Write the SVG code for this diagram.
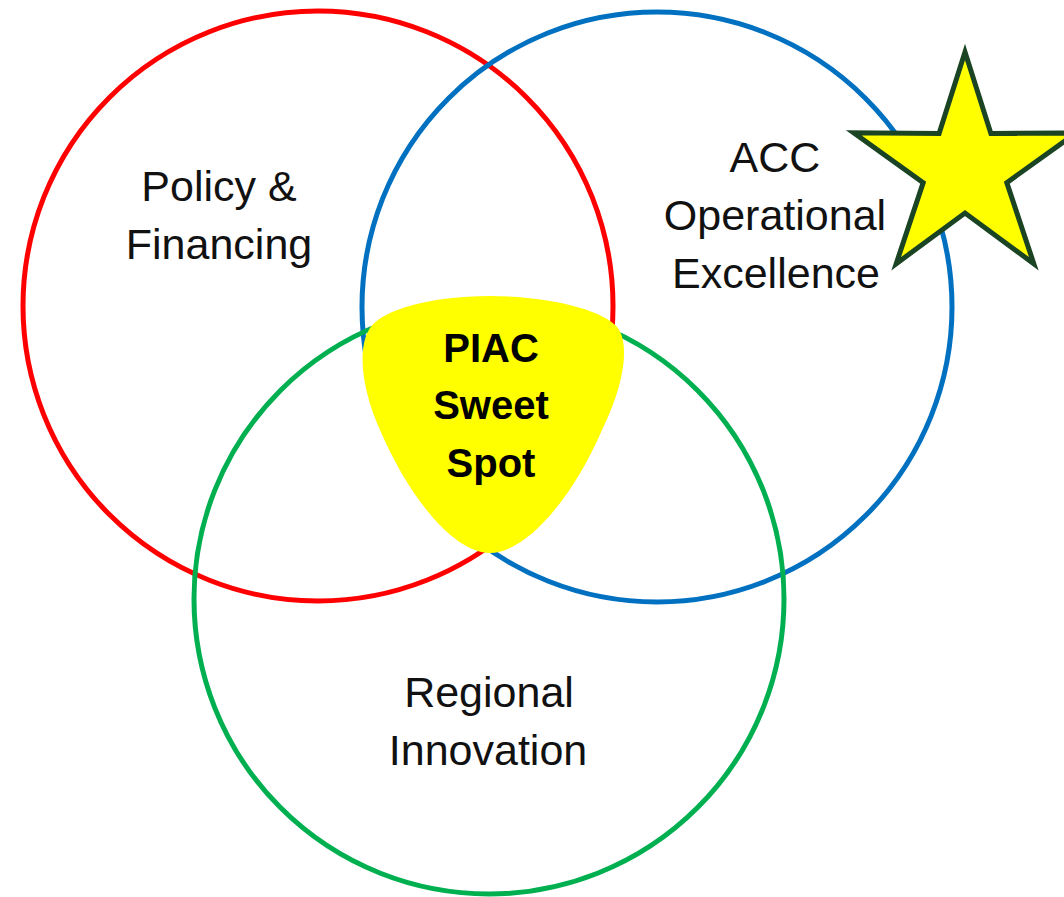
<svg xmlns="http://www.w3.org/2000/svg" width="1064" height="897" viewBox="0 0 1064 897">
  <style>
    .ring { fill: none; stroke-width: 5; }
    .lbl { font-family: "Liberation Sans", Arial, sans-serif; font-size: 43px; fill: #111; text-anchor: middle; }
    .core { font-family: "Liberation Sans", Arial, sans-serif; font-size: 40px; font-weight: bold; fill: #000; text-anchor: middle; }
  </style>
  <rect width="1064" height="897" fill="#fff"/>
  <g id="policy">
    <circle class="ring" cx="318" cy="306" r="295" stroke="#FF0000"/>
    <text class="lbl" x="219" y="201">Policy &amp;</text>
    <text class="lbl" x="219" y="259">Financing</text>
  </g>
  <g id="acc">
    <circle class="ring" cx="657" cy="307" r="295" stroke="#0070C0"/>
    <text class="lbl" x="775" y="172">ACC</text>
    <text class="lbl" x="775" y="230">Operational</text>
    <text class="lbl" x="776" y="288">Excellence</text>
  </g>
  <g id="regional">
    <circle class="ring" cx="489" cy="599" r="295" stroke="#00B050"/>
    <text class="lbl" x="489" y="707">Regional</text>
    <text class="lbl" x="488" y="765">Innovation</text>
  </g>
  <g id="sweetspot">
    <path d="M 490 296 C 430 296 382 310 370 328 C 358 346 360 385 380 430 C 410 500 455 553 490 553 C 525 553 572 500 602 430 C 624 385 630 346 618 328 C 604 310 550 296 490 296 Z" fill="#FFFF00"/>
    <text class="core" x="491" y="362">PIAC</text>
    <text class="core" x="491" y="419">Sweet</text>
    <text class="core" x="491" y="477">Spot</text>
  </g>
  <g id="star">
    <polygon points="965,52 990.9,133.4 1076.3,132.8 1006.8,182.6 1033.8,263.7 965,213 896.2,263.7 923.2,182.6 853.7,132.8 939.1,133.4" fill="#FFFF00" stroke="#1a4423" stroke-width="5" stroke-linejoin="miter"/>
  </g>
  <g id="connectors"></g>
</svg>
